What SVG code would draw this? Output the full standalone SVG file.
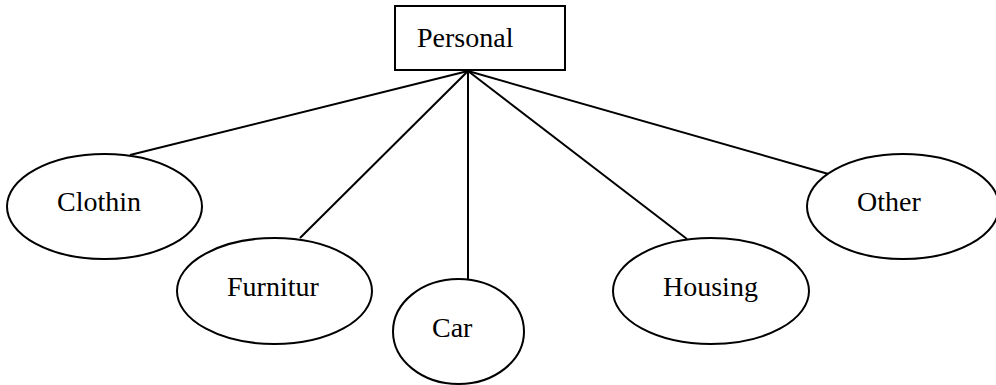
<svg xmlns="http://www.w3.org/2000/svg" width="996" height="385" viewBox="0 0 996 385">
  <style>
    .shape { fill: #ffffff; stroke: #000000; stroke-width: 2; }
    .edge { stroke: #000000; stroke-width: 2; fill: none; }
    .label { font-family: "Liberation Serif", "Times New Roman", serif; font-size: 28px; fill: #000000; }
  </style>
  <rect width="996" height="385" fill="#ffffff"/>

  <!-- connectors from the root box to each category -->
  <g id="connectors">
    <line class="edge" x1="468" y1="71" x2="130" y2="155"/>
    <line class="edge" x1="468" y1="71" x2="300" y2="238"/>
    <line class="edge" x1="468" y1="71" x2="468" y2="280"/>
    <line class="edge" x1="468" y1="71" x2="687" y2="239"/>
    <line class="edge" x1="468" y1="71" x2="832" y2="175"/>
  </g>

  <g id="personal">
    <rect class="shape" x="395" y="6" width="170" height="64"/>
    <text class="label" x="417" y="47">Personal</text>
  </g>

  <g id="clothin">
    <ellipse class="shape" cx="104.5" cy="206.5" rx="97.5" ry="52.5"/>
    <text class="label" x="57" y="211">Clothin</text>
  </g>

  <g id="furnitur">
    <ellipse class="shape" cx="274.5" cy="291" rx="97.5" ry="53"/>
    <text class="label" x="227" y="296">Furnitur</text>
  </g>

  <g id="car">
    <ellipse class="shape" cx="458.5" cy="331.5" rx="65.5" ry="52.5"/>
    <text class="label" x="432" y="337">Car</text>
  </g>

  <g id="housing">
    <ellipse class="shape" cx="711" cy="291" rx="98" ry="53"/>
    <text class="label" x="663" y="296">Housing</text>
  </g>

  <g id="other">
    <ellipse class="shape" cx="903" cy="206.5" rx="96" ry="52.5"/>
    <text class="label" x="857" y="211">Other</text>
  </g>
</svg>
